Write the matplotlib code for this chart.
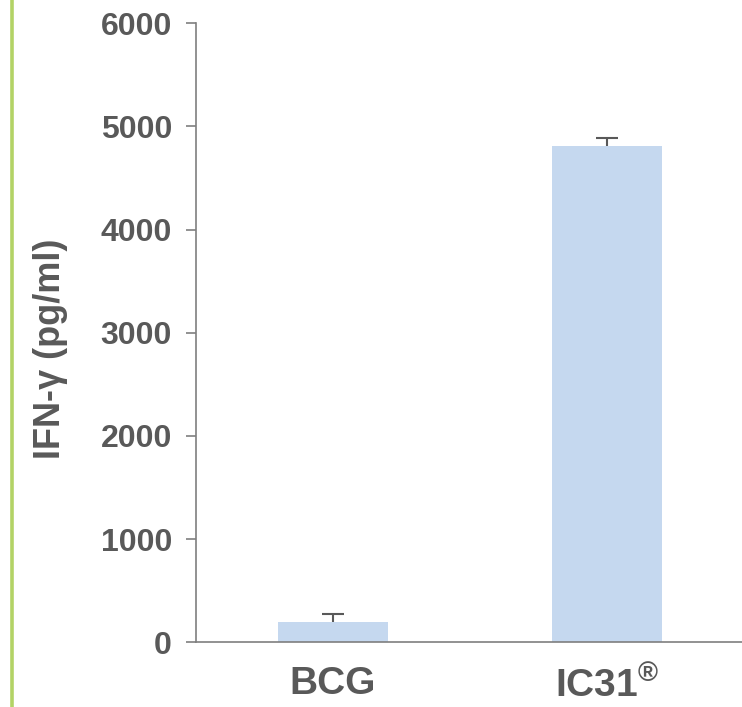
import matplotlib
matplotlib.use("Agg")
import matplotlib.pyplot as plt
from matplotlib.lines import Line2D

categories = ["BCG", "IC31$^{®}$"]
values = [197, 4809]
errors_up = [74, 84]
yticks = [0, 1000, 2000, 3000, 4000, 5000, 6000]

plt.rcParams['font.family'] = ['Liberation Sans', 'DejaVu Sans']
plt.rcParams['mathtext.default'] = 'regular'

txt = '#595959'
axc = '#7f7f7f'
barc = '#c5d8ef'

fig = plt.figure(figsize=(7.42, 7.07), dpi=100)
ax = fig.add_axes([196/742, (707-642.3)/707, (742-196)/742, (642.3-23.3)/707])

x = list(range(len(categories)))
ax.bar(x, values, width=0.405, color=barc, zorder=2)
tops = [v + e for v, e in zip(values, errors_up)]
cap_half = 0.04
ax.vlines(x, values, tops, colors=txt, linewidth=1.5, zorder=3)
ax.hlines(tops, [xi - cap_half for xi in x], [xi + cap_half for xi in x],
          colors=txt, linewidth=1.5, zorder=3)

ax.set_xlim(-0.5, 1.4927)
ax.set_ylim(0, 6000)
ax.set_yticks(yticks)
ax.set_yticklabels([str(v) for v in yticks], fontsize=23, fontweight='bold', color=txt)
ax.set_xticks(x)
ax.set_xticklabels(categories, fontsize=28, fontweight='bold', color=txt)
ax.tick_params(axis='x', length=0, pad=17)
ax.tick_params(axis='y', length=7.2, width=1.2, color=axc, pad=10)

for s in ['top', 'right']:
    ax.spines[s].set_visible(False)
for s in ['left', 'bottom']:
    ax.spines[s].set_color(axc)
    ax.spines[s].set_linewidth(1.2)

ax.set_ylabel("IFN-γ (pg/ml)", fontsize=26, fontweight='bold', color=txt)
ax.yaxis.set_label_coords((68-196)/546, (642.3-349)/619)

fig.add_artist(Line2D([11.5/742, 11.5/742], [0, 1], transform=fig.transFigure,
                      color='#b3d366', linewidth=2.6, solid_capstyle='butt'))

fig.savefig("out.png", dpi=100)
